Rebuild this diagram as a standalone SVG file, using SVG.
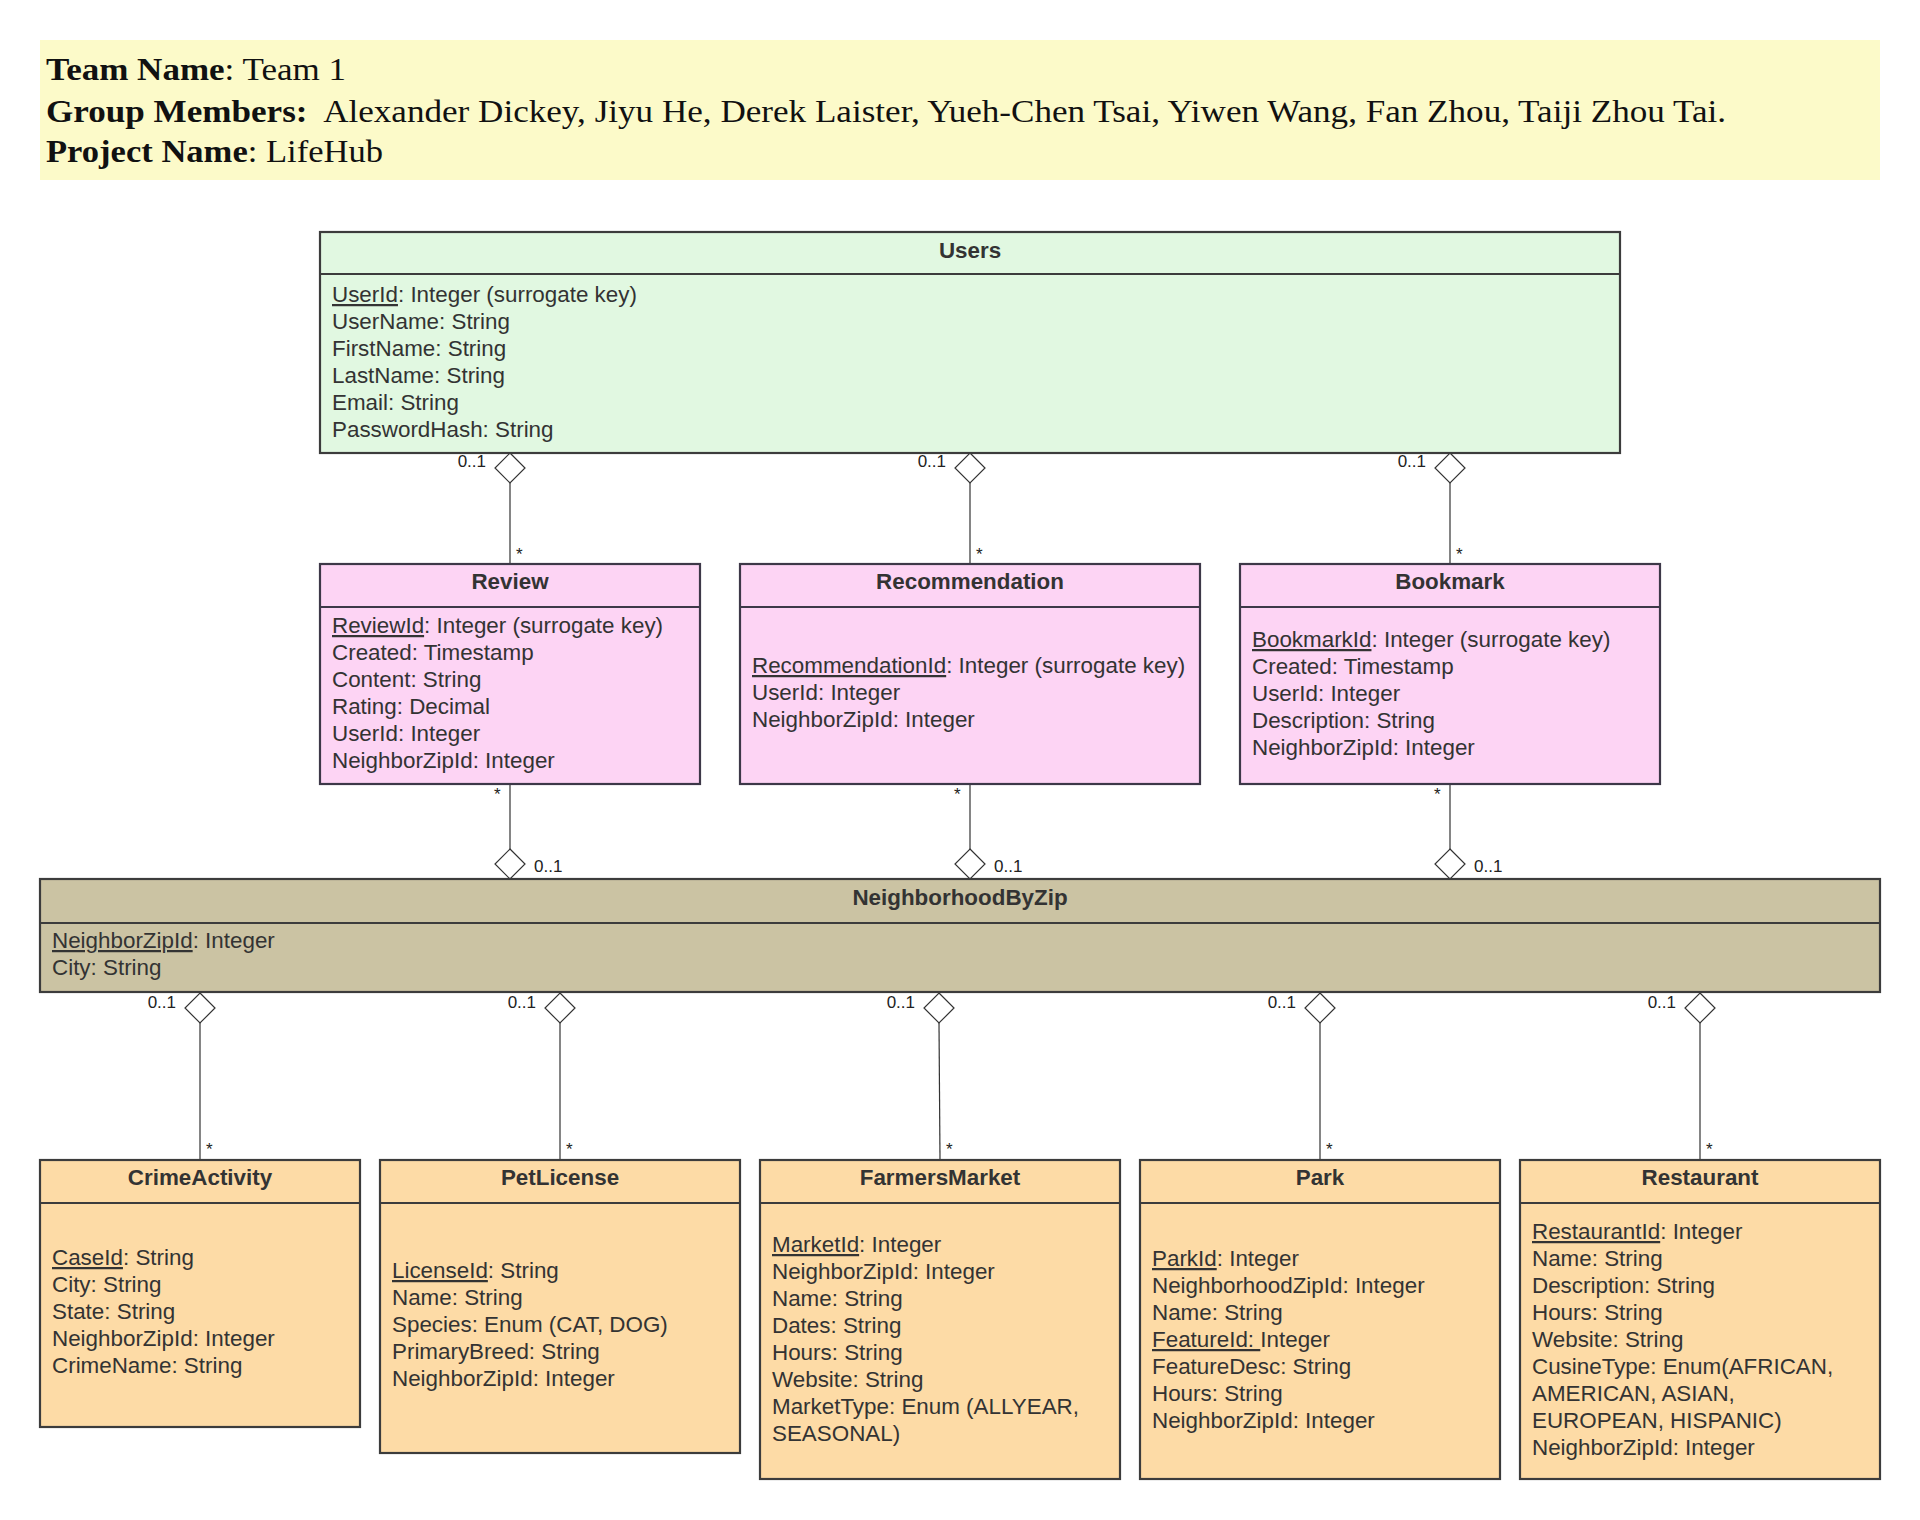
<svg xmlns="http://www.w3.org/2000/svg" width="1920" height="1520" viewBox="0 0 1920 1520">
<style>
.hdr{font-family:"Liberation Serif","Times New Roman",serif;font-size:32px;fill:#111}
.b{font-weight:bold}
.box{stroke:#3c3c3c;stroke-width:2.2}
.green{fill:#e1f8e1}
.pink{fill:#fdd4f4;stroke:#3d3848}
.tan{fill:#cbc3a3}
.orange{fill:#fddba6}
.sep{stroke:#3c3c3c;stroke-width:2.2}
.pink-sep{stroke:#3d3848;stroke-width:2.2}
.title{font-family:"Liberation Sans",Arial,sans-serif;font-size:22.4px;font-weight:bold;fill:#333;text-anchor:middle}
.attr{font-family:"Liberation Sans",Arial,sans-serif;font-size:22.4px;fill:#333}
.pk{text-decoration:underline}
.conn{stroke:#333;stroke-width:1.2;fill:none}
.dia{fill:#fff;stroke:#333;stroke-width:1.2}
.mult{font-family:"Liberation Sans",Arial,sans-serif;font-size:17px;fill:#222}
.end{text-anchor:end}
</style>
<rect width="1920" height="1520" fill="#fff"/>

<g id="header">
<rect x="40" y="40" width="1840" height="140" fill="#fcfac9"/>
<text class="hdr" x="46" y="80" textLength="300" lengthAdjust="spacingAndGlyphs"><tspan class="b">Team Name</tspan>: Team 1</text>
<text class="hdr" x="46" y="122" xml:space="preserve" textLength="1680" lengthAdjust="spacingAndGlyphs"><tspan class="b">Group Members:</tspan>  Alexander Dickey, Jiyu He, Derek Laister, Yueh-Chen Tsai, Yiwen Wang, Fan Zhou, Taiji Zhou Tai.</text>
<text class="hdr" x="46" y="162" textLength="337" lengthAdjust="spacingAndGlyphs"><tspan class="b">Project Name</tspan>: LifeHub</text>
</g>

<g id="connectors">
<line class="conn" x1="510" y1="483" x2="510" y2="564"/>
<polygon class="dia" points="510,453 525,468 510,483 495,468"/>
<text class="mult end" x="486" y="467">0..1</text>
<text class="mult" x="516" y="560">*</text>
<line class="conn" x1="970" y1="483" x2="970" y2="564"/>
<polygon class="dia" points="970,453 985,468 970,483 955,468"/>
<text class="mult end" x="946" y="467">0..1</text>
<text class="mult" x="976" y="560">*</text>
<line class="conn" x1="1450" y1="483" x2="1450" y2="564"/>
<polygon class="dia" points="1450,453 1465,468 1450,483 1435,468"/>
<text class="mult end" x="1426" y="467">0..1</text>
<text class="mult" x="1456" y="560">*</text>
<line class="conn" x1="510" y1="784" x2="510" y2="849"/>
<polygon class="dia" points="510,849 525,864 510,879 495,864"/>
<text class="mult" x="494" y="800">*</text>
<text class="mult" x="534" y="872">0..1</text>
<line class="conn" x1="970" y1="784" x2="970" y2="849"/>
<polygon class="dia" points="970,849 985,864 970,879 955,864"/>
<text class="mult" x="954" y="800">*</text>
<text class="mult" x="994" y="872">0..1</text>
<line class="conn" x1="1450" y1="784" x2="1450" y2="849"/>
<polygon class="dia" points="1450,849 1465,864 1450,879 1435,864"/>
<text class="mult" x="1434" y="800">*</text>
<text class="mult" x="1474" y="872">0..1</text>
<line class="conn" x1="200" y1="1023" x2="200" y2="1160"/>
<polygon class="dia" points="200,993 215,1008 200,1023 185,1008"/>
<text class="mult end" x="176" y="1008">0..1</text>
<text class="mult" x="206" y="1155">*</text>
<line class="conn" x1="560" y1="1023" x2="560" y2="1160"/>
<polygon class="dia" points="560,993 575,1008 560,1023 545,1008"/>
<text class="mult end" x="536" y="1008">0..1</text>
<text class="mult" x="566" y="1155">*</text>
<line class="conn" x1="939" y1="1023" x2="940" y2="1160"/>
<polygon class="dia" points="939,993 954,1008 939,1023 924,1008"/>
<text class="mult end" x="915" y="1008">0..1</text>
<text class="mult" x="946" y="1155">*</text>
<line class="conn" x1="1320" y1="1023" x2="1320" y2="1160"/>
<polygon class="dia" points="1320,993 1335,1008 1320,1023 1305,1008"/>
<text class="mult end" x="1296" y="1008">0..1</text>
<text class="mult" x="1326" y="1155">*</text>
<line class="conn" x1="1700" y1="1023" x2="1700" y2="1160"/>
<polygon class="dia" points="1700,993 1715,1008 1700,1023 1685,1008"/>
<text class="mult end" x="1676" y="1008">0..1</text>
<text class="mult" x="1706" y="1155">*</text>
</g>

<g id="users">
<rect class="box green" x="320" y="232" width="1300" height="221"/>
<line class="sep" x1="320" y1="274" x2="1620" y2="274"/>
<text class="title" x="970" y="258">Users</text>
<text class="attr" x="332" y="302"><tspan class="pk">UserId</tspan>: Integer (surrogate key)</text>
<text class="attr" x="332" y="329">UserName: String</text>
<text class="attr" x="332" y="356">FirstName: String</text>
<text class="attr" x="332" y="383">LastName: String</text>
<text class="attr" x="332" y="410">Email: String</text>
<text class="attr" x="332" y="437">PasswordHash: String</text>
</g>

<g id="review">
<rect class="box pink" x="320" y="564" width="380" height="220"/>
<line class="pink-sep" x1="320" y1="607" x2="700" y2="607"/>
<text class="title" x="510" y="589">Review</text>
<text class="attr" x="332" y="633"><tspan class="pk">ReviewId</tspan>: Integer (surrogate key)</text>
<text class="attr" x="332" y="660">Created: Timestamp</text>
<text class="attr" x="332" y="687">Content: String</text>
<text class="attr" x="332" y="714">Rating: Decimal</text>
<text class="attr" x="332" y="741">UserId: Integer</text>
<text class="attr" x="332" y="768">NeighborZipId: Integer</text>
</g>

<g id="recommendation">
<rect class="box pink" x="740" y="564" width="460" height="220"/>
<line class="pink-sep" x1="740" y1="607" x2="1200" y2="607"/>
<text class="title" x="970" y="589">Recommendation</text>
<text class="attr" x="752" y="673"><tspan class="pk">RecommendationId</tspan>: Integer (surrogate key)</text>
<text class="attr" x="752" y="700">UserId: Integer</text>
<text class="attr" x="752" y="727">NeighborZipId: Integer</text>
</g>

<g id="bookmark">
<rect class="box pink" x="1240" y="564" width="420" height="220"/>
<line class="pink-sep" x1="1240" y1="607" x2="1660" y2="607"/>
<text class="title" x="1450" y="589">Bookmark</text>
<text class="attr" x="1252" y="647"><tspan class="pk">BookmarkId</tspan>: Integer (surrogate key)</text>
<text class="attr" x="1252" y="674">Created: Timestamp</text>
<text class="attr" x="1252" y="701">UserId: Integer</text>
<text class="attr" x="1252" y="728">Description: String</text>
<text class="attr" x="1252" y="755">NeighborZipId: Integer</text>
</g>

<g id="neighborhoodbyzip">
<rect class="box tan" x="40" y="879" width="1840" height="113"/>
<line class="sep" x1="40" y1="923" x2="1880" y2="923"/>
<text class="title" x="960" y="905">NeighborhoodByZip</text>
<text class="attr" x="52" y="948"><tspan class="pk">NeighborZipId</tspan>: Integer</text>
<text class="attr" x="52" y="975">City: String</text>
</g>

<g id="crimeactivity">
<rect class="box orange" x="40" y="1160" width="320" height="267"/>
<line class="sep" x1="40" y1="1203" x2="360" y2="1203"/>
<text class="title" x="200" y="1185">CrimeActivity</text>
<text class="attr" x="52" y="1265"><tspan class="pk">CaseId</tspan>: String</text>
<text class="attr" x="52" y="1292">City: String</text>
<text class="attr" x="52" y="1319">State: String</text>
<text class="attr" x="52" y="1346">NeighborZipId: Integer</text>
<text class="attr" x="52" y="1373">CrimeName: String</text>
</g>

<g id="petlicense">
<rect class="box orange" x="380" y="1160" width="360" height="293"/>
<line class="sep" x1="380" y1="1203" x2="740" y2="1203"/>
<text class="title" x="560" y="1185">PetLicense</text>
<text class="attr" x="392" y="1278"><tspan class="pk">LicenseId</tspan>: String</text>
<text class="attr" x="392" y="1305">Name: String</text>
<text class="attr" x="392" y="1332">Species: Enum (CAT, DOG)</text>
<text class="attr" x="392" y="1359">PrimaryBreed: String</text>
<text class="attr" x="392" y="1386">NeighborZipId: Integer</text>
</g>

<g id="farmersmarket">
<rect class="box orange" x="760" y="1160" width="360" height="319"/>
<line class="sep" x1="760" y1="1203" x2="1120" y2="1203"/>
<text class="title" x="940" y="1185">FarmersMarket</text>
<text class="attr" x="772" y="1252"><tspan class="pk">MarketId</tspan>: Integer</text>
<text class="attr" x="772" y="1279">NeighborZipId: Integer</text>
<text class="attr" x="772" y="1306">Name: String</text>
<text class="attr" x="772" y="1333">Dates: String</text>
<text class="attr" x="772" y="1360">Hours: String</text>
<text class="attr" x="772" y="1387">Website: String</text>
<text class="attr" x="772" y="1414">MarketType: Enum (ALLYEAR,</text>
<text class="attr" x="772" y="1441">SEASONAL)</text>
</g>

<g id="park">
<rect class="box orange" x="1140" y="1160" width="360" height="319"/>
<line class="sep" x1="1140" y1="1203" x2="1500" y2="1203"/>
<text class="title" x="1320" y="1185">Park</text>
<text class="attr" x="1152" y="1266"><tspan class="pk">ParkId</tspan>: Integer</text>
<text class="attr" x="1152" y="1293">NeighborhoodZipId: Integer</text>
<text class="attr" x="1152" y="1320">Name: String</text>
<text class="attr" x="1152" y="1347" xml:space="preserve"><tspan class="pk">FeatureId: </tspan>Integer</text>
<text class="attr" x="1152" y="1374">FeatureDesc: String</text>
<text class="attr" x="1152" y="1401">Hours: String</text>
<text class="attr" x="1152" y="1428">NeighborZipId: Integer</text>
</g>

<g id="restaurant">
<rect class="box orange" x="1520" y="1160" width="360" height="319"/>
<line class="sep" x1="1520" y1="1203" x2="1880" y2="1203"/>
<text class="title" x="1700" y="1185">Restaurant</text>
<text class="attr" x="1532" y="1239"><tspan class="pk">RestaurantId</tspan>: Integer</text>
<text class="attr" x="1532" y="1266">Name: String</text>
<text class="attr" x="1532" y="1293">Description: String</text>
<text class="attr" x="1532" y="1320">Hours: String</text>
<text class="attr" x="1532" y="1347">Website: String</text>
<text class="attr" x="1532" y="1374">CusineType: Enum(AFRICAN,</text>
<text class="attr" x="1532" y="1401">AMERICAN, ASIAN,</text>
<text class="attr" x="1532" y="1428">EUROPEAN, HISPANIC)</text>
<text class="attr" x="1532" y="1455">NeighborZipId: Integer</text>
</g>
</svg>
